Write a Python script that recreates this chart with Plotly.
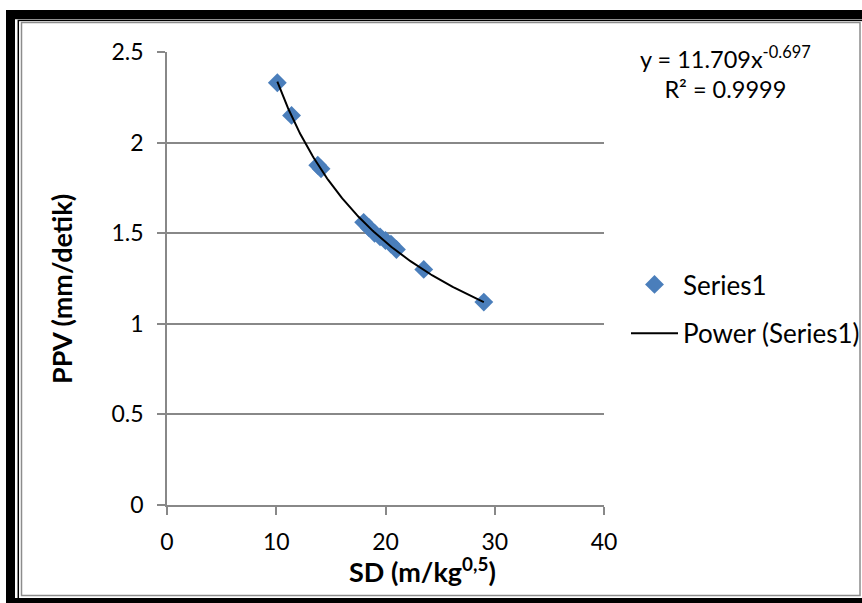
import numpy as np
import plotly.graph_objects as go

# ---- data ----
sd = [10.1, 11.4, 13.8, 14.1, 18.0, 18.5, 19.0, 19.5, 20.0, 20.5, 21.0, 23.5, 29.0]
ppv = [2.33, 2.15, 1.875, 1.855, 1.56, 1.53, 1.50, 1.48, 1.46, 1.44, 1.41, 1.30, 1.12]
coef_a = 11.709
coef_b = -0.697
r_squared = 0.9999
x_ticks = [0, 10, 20, 30, 40]
y_ticks = [0, 0.5, 1, 1.5, 2, 2.5]

W, H = 862, 603
L, R, T, B = 167, 604, 52, 505  # plot area in pixels


def px(x):
    return (x - L) / (R - L)


def py(y):
    return (B - y) / (B - T)


def cx(x):
    return x / W


def cy(y):
    return 1 - y / H


FONT = "Lato"
GRAY = "#888888"

# power trendline over the data range
xt = np.linspace(min(sd), max(sd), 200)
yt = coef_a * xt ** coef_b

fig = go.Figure()
fig.add_trace(go.Scatter(
    x=sd, y=ppv, mode="markers", name="Series1", legendgroup="a",
    marker=dict(symbol="diamond", size=14.5, color="#4A7EBB",
                line=dict(width=0)),
))
fig.add_trace(go.Scatter(
    x=xt, y=yt, mode="lines", name="Power (Series1)", legendgroup="b",
    line=dict(color="black", width=2),
))

shapes = [
    # outer black frame
    dict(type="rect", xref="paper", yref="paper", layer="below",
         x0=px(6), x1=px(1000), y0=py(10), y1=py(1000),
         fillcolor="black", line=dict(width=0)),
    dict(type="rect", xref="paper", yref="paper", layer="below",
         x0=px(15), x1=px(1000), y0=py(19.3), y1=py(598),
         fillcolor="white", line=dict(width=0)),
    # thin black inner line
    dict(type="rect", xref="paper", yref="paper", layer="below",
         x0=px(18.3), x1=px(1000), y0=py(20.6), y1=py(1000),
         fillcolor="rgba(0,0,0,0)", line=dict(width=1.5, color="black")),
    dict(type="rect", xref="paper", yref="paper", layer="below",
         x0=px(19.5), x1=px(1000), y0=py(21.4), y1=py(597.5),
         fillcolor="white", line=dict(width=0)),
    # gray chart-area border
    dict(type="rect", xref="paper", yref="paper", layer="below",
         x0=px(21.5), x1=px(860), y0=py(22.5), y1=py(595.5),
         fillcolor="white", line=dict(width=1.5, color="#8c8c8c")),
]

annotations = [
    dict(xref="paper", yref="paper", x=px(725), y=py(72), showarrow=False,
         text=f"y = {coef_a:.3f}x<sup>{coef_b:.3f}</sup><br>R² = {r_squared:.4f}",
         font=dict(family=FONT, size=23.5, color="black"),
         xanchor="center", yanchor="middle", align="center"),
    dict(xref="paper", yref="paper", x=px(61), y=py(289), showarrow=False,
         text="<b>PPV (mm/detik)</b>", textangle=-90,
         font=dict(family=FONT, size=27, color="black"),
         xanchor="center", yanchor="middle"),
    dict(xref="paper", yref="paper", x=px(422), y=py(570), showarrow=False,
         text="<b>SD (m/kg<sup>0,5</sup>)</b>",
         font=dict(family=FONT, size=27, color="black"),
         xanchor="center", yanchor="middle"),
]

fig.update_layout(
    width=W, height=H,
    margin=dict(l=L, r=W - R, t=T, b=H - B, pad=0, autoexpand=False),
    paper_bgcolor="white", plot_bgcolor="rgba(0,0,0,0)",
    font=dict(family=FONT, size=23, color="black"),
    shapes=shapes, annotations=annotations,
    showlegend=True,
    legend=dict(xref="container", yref="container",
                x=cx(626), y=cy(261), xanchor="left", yanchor="top",
                font=dict(family=FONT, size=26, color="black"),
                bgcolor="rgba(0,0,0,0)", tracegroupgap=12,
                itemwidth=47, borderwidth=0),
    xaxis=dict(range=[0, 40], tickvals=x_ticks, showgrid=False,
               showline=True, linecolor=GRAY, linewidth=1.5,
               ticks="outside", ticklen=8, tickcolor=GRAY, tickwidth=1.5,
               zeroline=False, ticklabelstandoff=8,
               tickfont=dict(family=FONT, size=23)),
    yaxis=dict(range=[0, 2.5], tickvals=y_ticks, showgrid=True,
               gridcolor=GRAY, gridwidth=1.5,
               showline=True, linecolor=GRAY, linewidth=1.5,
               ticks="outside", ticklen=8, tickcolor=GRAY, tickwidth=1.5,
               zeroline=False, ticklabelstandoff=9,
               tickfont=dict(family=FONT, size=23)),
)

fig.write_html(
    "out.html",
    config={"displayModeBar": False},
    post_script="document.body.style.margin='0';document.body.style.overflow='hidden';",
)
